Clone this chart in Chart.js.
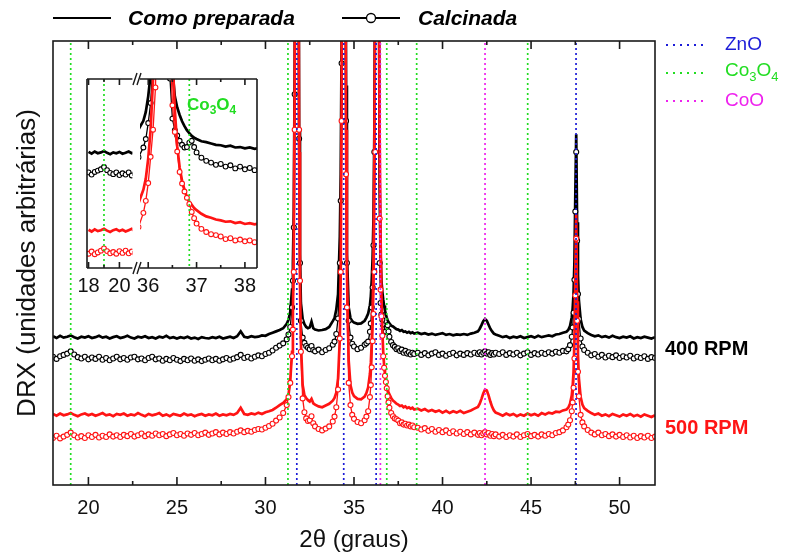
<!DOCTYPE html>
<html>
<head>
<meta charset="utf-8">
<script src="https://cdn.jsdelivr.net/npm/chart.js@4.4.0/dist/chart.umd.min.js"></script>
<style>
  body { margin: 0; background: #fff; }
  #wrap { position: relative; width: 788px; height: 557px; }
  canvas { position: absolute; }
  #main { left: 0; top: 0; }
  #insetL { left: 62px; top: 70px; }
  #insetR { left: 126px; top: 70px; }
</style>
</head>
<body>
<div id="wrap">
  <canvas id="main" width="788" height="557"></canvas>
  <canvas id="insetL" width="76" height="230"></canvas>
  <canvas id="insetR" width="152" height="230"></canvas>
</div>
<script>
Chart.defaults.font.family = "'Liberation Sans', Arial, sans-serif";
Chart.defaults.color = '#111';

// 2theta (graus)
var twoTheta = [
  18,18.2,18.4,18.6,18.8,19,19.2,19.4,19.6,19.8,
  20,20.2,20.4,20.6,20.8,21,21.2,21.4,21.6,21.8,
  22,22.2,22.4,22.6,22.8,23,23.2,23.4,23.6,23.8,
  24,24.2,24.4,24.6,24.8,25,25.2,25.4,25.6,25.8,
  26,26.2,26.4,26.6,26.8,27,27.2,27.4,27.6,27.8,
  28,28.2,28.4,28.6,28.8,29,29.2,29.4,29.6,29.8,
  30,30.2,30.4,30.6,
  30.8,31,31.2,31.3,31.4,31.5,31.55,31.6,31.65,31.7,
  31.75,31.8,31.85,31.9,31.95,32,32.1,32.2,32.3,32.4,
  32.5,32.6,32.7,32.8,33,33.2,33.4,33.6,33.8,33.9,
  34,34.1,34.2,34.25,34.3,34.35,34.4,34.45,34.5,34.55,
  34.6,34.7,34.8,34.9,35,35.2,35.4,35.6,35.7,35.8,
  35.9,35.95,36,36.05,36.1,36.15,36.2,36.25,36.3,36.35,
  36.4,36.45,36.5,36.55,36.6,36.65,36.7,36.75,36.8,36.85,
  36.9,36.95,37,37.1,37.2,37.3,37.4,37.5,37.6,37.7,
  37.8,37.9,38,38.1,38.2,38.3,38.4,
  38.6,38.8,39,39.2,39.4,39.6,39.8,40,40.2,40.4,40.6,40.8,41,41.2,41.4,41.6,41.8,
  42,42.1,42.2,42.3,42.4,42.5,42.6,42.7,42.8,42.9,43,
  43.2,43.4,43.6,43.8,44,44.2,44.4,44.6,44.8,45,45.2,45.4,45.6,45.8,46,46.2,46.4,46.6,46.8,
  47,47.1,47.2,47.3,47.35,47.4,47.45,47.5,47.55,47.6,47.65,47.7,47.8,47.9,48,
  48.2,48.4,48.6,48.8,49,49.2,49.4,49.6,49.8,50,50.2,50.4,50.6,50.8,51,51.2,51.4,51.6,51.8,52
];

// Como preparada, 400 RPM
var asPrep400 = [
  33.5,33.1,33.6,33.2,33.4,33.7,33.3,33.0,33.4,33.2,
  33.5,33.1,33.3,33.6,33.2,33.4,33.0,33.3,33.5,33.1,
  33.3,33.6,33.2,33.0,33.4,33.2,33.5,33.1,33.3,33.0,
  33.4,33.2,33.6,33.1,33.3,33.0,33.3,33.1,33.4,33.0,
  33.2,32.9,33.3,33.1,33.0,33.3,33.1,33.4,33.0,33.2,
  33.4,33.1,33.5,34.6,33.4,33.2,33.5,33.3,33.4,33.7,
  33.6,34.0,34.3,34.6,
  34.9,35.3,36.3,37.2,39.0,44.0,50.0,62.0,95,180,
  400,350,160,80,52,41.0,37.4,36.2,35.6,35.3,
  35.5,36.8,35.3,35.0,34.8,34.9,35.1,35.6,36.9,37.6,
  39.5,43.0,56.0,70.0,100,190,400,350,165,90,
  52,40.0,37.6,36.9,36.6,36.3,36.4,37.0,37.7,38.6,
  40.5,42.5,46.0,51.0,60.0,80,125,250,440,250,
  120,68,52,46.0,43.5,41.8,40.4,39.3,38.4,37.7,
  37.1,36.7,36.4,35.9,35.7,35.4,35.1,35.0,34.7,34.9,
  34.5,34.6,34.3,34.5,34.2,34.4,34.1,
  34.3,34.0,34.2,33.9,34.1,33.8,34.0,34.2,33.8,34.0,33.7,33.9,33.8,34.0,33.8,34.1,34.3,
  34.6,35.2,36.0,36.9,37.4,37.0,36.1,35.2,34.6,34.1,33.9,
  33.6,33.3,33.5,33.1,33.4,33.2,33.5,33.1,33.3,33.5,33.2,33.6,33.3,33.5,33.7,33.5,33.9,34.0,34.3,
  34.5,34.9,35.8,37.8,39.8,43.1,50.4,65.6,79.0,59.2,47.2,41.7,37.3,35.6,34.8,
  34.2,33.8,33.5,33.7,33.3,33.5,33.2,33.6,33.3,33.1,33.4,33.2,33.5,33.0,33.3,33.1,33.4,33.2,33.0,33.3
];

// Calcinada, 400 RPM
var calc400 = [
  28.9,28.4,29.0,29.3,29.6,30.1,29.4,28.8,28.5,28.9,
  28.3,28.7,28.4,28.9,28.2,28.6,28.1,28.5,28.9,28.3,
  28.6,28.2,28.7,28.9,28.3,28.5,28.1,28.6,28.9,28.3,
  28.5,28.0,28.4,28.1,28.6,28.2,27.9,28.4,28.1,28.5,
  28.0,28.3,27.9,28.2,28.5,28.1,28.4,28.0,28.3,28.6,
  28.2,28.5,28.8,29.3,28.6,28.9,28.5,28.9,29.2,29.0,
  29.5,29.8,30.3,30.9,
  31.4,31.9,32.8,33.9,35.6,40.0,46.0,58.0,88,170,
  380,330,150,78,50,37.0,33.2,32.0,31.3,30.9,
  30.6,31.3,30.4,30.1,30.5,29.9,30.4,30.8,31.6,32.3,
  34.0,37.5,50.0,64,95,180,390,340,155,82,
  50,37.0,33.2,31.8,31.2,30.6,30.9,31.6,31.9,32.3,
  34.5,36.4,40.0,44.5,54,75,120,240,420,230,
  105,50,41.0,38.4,37.2,36.0,35.1,34.5,34.6,35.6,
  36.0,34.6,33.4,32.2,31.5,31.1,30.6,30.8,30.2,30.5,
  29.8,30.2,29.6,29.9,29.4,29.8,29.5,
  29.8,29.3,29.7,29.2,29.6,29.9,29.3,29.6,29.1,29.5,29.8,29.2,29.6,29.3,29.7,29.4,29.8,
  29.5,29.9,29.4,29.8,30.1,29.6,29.9,29.3,29.7,29.4,29.8,
  29.5,29.9,29.3,29.7,29.4,29.8,29.2,29.6,29.9,29.3,29.7,29.4,29.8,29.5,29.9,29.6,30.0,29.8,30.2,
  30.1,30.6,31.5,33.4,35.5,38.8,46.2,61.6,75.0,55.0,43.0,37.4,33.0,31.2,30.4,
  29.8,29.2,29.5,28.9,29.3,28.7,29.1,28.8,29.2,28.6,29.0,28.7,29.1,28.5,28.9,28.6,29.0,28.4,28.8,28.6
];

// Como preparada, 500 RPM
var asPrep500 = [
  16.0,15.6,16.1,15.7,15.9,16.2,15.8,15.5,15.9,16.1,
  15.7,16.0,15.6,15.9,16.2,15.7,15.9,15.5,16.0,15.8,
  16.1,15.6,15.9,15.7,16.2,15.8,15.5,16.0,15.7,15.9,
  16.2,15.6,15.9,15.5,16.0,15.8,15.6,16.1,15.7,15.9,
  15.5,15.8,16.0,15.6,15.9,15.7,16.1,15.6,15.9,15.7,
  16.0,15.8,16.2,17.4,16.0,15.8,16.1,15.9,16.3,16.0,
  16.4,16.6,16.9,17.4,
  18.0,18.5,19.3,20.3,23.5,30.0,38.0,55.0,90,175,
  390,340,150,75,45,32.0,22.5,20.2,19.6,19.1,
  18.8,19.4,18.4,18.1,17.7,17.5,17.9,18.3,19.0,19.6,
  20.8,24.0,33.0,48,85,180,395,345,150,80,
  48,28.0,22.5,20.8,20.0,19.4,19.3,19.9,20.7,22.0,
  25.0,27.5,32.0,38.5,50.0,74,120,245,435,245,
  125,78,56,43.0,34.8,30.0,27.0,25.0,23.4,22.3,
  21.6,20.9,20.4,19.6,19.0,18.7,18.3,18.1,17.8,17.9,
  17.5,17.7,17.3,17.5,17.2,17.4,17.0,
  17.2,16.8,17.1,16.6,16.9,16.5,16.8,16.3,16.7,16.2,16.6,16.3,16.7,16.2,16.5,16.8,17.2,
  17.6,18.3,19.4,20.6,21.5,21.3,20.2,18.8,17.6,16.8,16.3,
  16.0,15.6,16.1,15.7,16.0,15.5,15.9,15.6,16.1,15.7,16.0,15.6,16.2,15.9,16.3,16.1,16.5,16.4,16.8,
  17.0,17.4,18.3,20.2,22.3,25.5,32.7,47.8,61.0,41.4,29.5,24.1,19.8,18.1,17.3,
  16.7,16.2,15.8,16.1,15.6,15.9,15.5,16.0,15.7,15.4,15.9,15.6,16.0,15.5,15.8,15.4,15.9,15.6,15.3,15.7
];

// Calcinada, 500 RPM
var calc500 = [
  10.6,11.1,10.5,10.9,11.3,11.8,11.2,10.7,11.0,10.6,
  11.2,10.8,11.3,10.7,11.1,10.8,11.4,10.9,11.2,10.8,
  11.3,11.0,11.5,10.9,11.2,11.6,11.0,11.4,11.1,11.6,
  11.2,11.5,11.0,11.4,11.7,11.2,11.5,11.1,11.6,11.3,
  11.7,11.2,11.5,11.8,11.3,11.6,11.9,11.4,11.8,11.5,
  11.9,11.6,12.0,12.3,11.9,12.2,12.0,12.4,12.6,12.5,
  12.9,13.3,13.8,14.5,
  15.2,16.2,18.0,19.8,23.0,29.0,35.0,48.0,80,165,
  370,320,150,80,46,30.0,19.5,16.4,15.0,14.4,
  14.6,15.5,13.9,13.2,12.6,12.3,12.7,13.2,14.3,15.4,
  17.5,21.5,33.0,48,82,170,380,330,150,70,
  40,23.0,18.0,15.8,14.9,14.2,13.9,14.6,15.4,16.6,
  19.8,22.5,26.5,32.4,38.5,48,75,160,380,230,
  110,60,44.0,38.0,33.6,29.0,26.4,24.6,23.2,21.8,
  20.0,18.6,17.4,16.2,15.5,15.0,14.8,14.5,13.9,14.1,
  13.6,13.8,13.4,13.6,13.2,13.4,13.0,
  12.9,12.5,12.8,12.2,12.6,12.0,12.4,11.9,12.3,11.7,12.1,11.6,12.0,11.5,11.9,11.4,11.8,
  11.3,11.7,11.2,11.6,11.9,11.4,11.7,11.1,11.5,11.0,11.4,
  10.9,11.3,10.8,11.2,10.9,11.4,10.8,11.2,11.5,11.0,11.3,10.9,11.4,11.1,11.5,11.2,11.7,11.9,12.3,
  13.0,13.6,14.6,16.6,18.6,21.9,28.5,42.7,55.5,37.0,25.5,20.0,15.8,14.1,13.2,
  12.4,11.8,11.4,11.8,11.2,11.5,11.0,11.4,10.9,11.3,10.8,11.2,10.7,11.1,10.6,11.0,10.7,11.1,10.6,10.9
];

// fichas de referencia
var znoPeaks = [31.77, 34.42, 36.25, 47.54];
var co3o4Peaks = [19.0, 31.27, 36.85, 38.54, 44.81];
var cooPeaks = [36.49, 42.40];

var xTickLabels = [20, 25, 30, 35, 40, 45, 50];
var insetLeftLabels = [18, 20];
var insetRightLabels = [36, 37, 38];

var RED = '#ff1414';
var BLUE = '#1c1cd8';
var GREEN = '#22dd22';
var MAGENTA = '#ee22ee';
var FONT = "'Liberation Sans', Arial, sans-serif";

function pts(ys) {
  return twoTheta.map(function (x, i) { return {x: x, y: ys[i]}; });
}

function seriesSets(r) {
  return [
    {data: pts(calc500), borderColor: RED, borderWidth: 1.3, pointRadius: r, pointBackgroundColor: '#fff',
     pointBorderColor: RED, pointBorderWidth: 1.1, order: 1},
    {data: pts(asPrep500), borderColor: RED, borderWidth: 2.7, pointRadius: 0, order: 2},
    {data: pts(calc400), borderColor: '#000', borderWidth: 1.3, pointRadius: r, pointBackgroundColor: '#fff',
     pointBorderColor: '#000', pointBorderWidth: 1.1, order: 3},
    {data: pts(asPrep400), borderColor: '#000', borderWidth: 2.7, pointRadius: 0, order: 4}
  ];
}

function refSets(peaks, color, ymin, ymax) {
  return peaks.map(function (p) {
    return {data: [{x: p, y: ymin}, {x: p, y: ymax}], borderColor: color, borderWidth: 1.7,
            borderDash: [2, 3], pointRadius: 0, order: 0};
  });
}

function drawFormula(ctx, parts, x, y, size, weight, color) {
  ctx.fillStyle = color;
  ctx.textAlign = 'left';
  ctx.textBaseline = 'middle';
  var cx = x;
  parts.forEach(function (p) {
    var sub = p[1];
    var fs = sub ? Math.round(size * 0.68) : size;
    ctx.font = weight + ' ' + fs + 'px ' + FONT;
    ctx.fillText(p[0], cx, sub ? y + size * 0.33 : y);
    cx += ctx.measureText(p[0]).width;
  });
}

//------------------------------ decorations of the main plot ------------------------------
var mainDecor = {
  id: 'mainDecor',
  afterDraw: function (chart) {
    var ctx = chart.ctx, a = chart.chartArea, x = chart.scales.x;
    ctx.save();
    ctx.strokeStyle = '#1a1a1a';
    ctx.lineWidth = 1.6;
    ctx.strokeRect(a.left, a.top, a.right - a.left, a.bottom - a.top);
    for (var v = 20; v <= 50; v += 2.5) {            // ticks pointing inside
      var px = x.getPixelForValue(v);
      var len = v % 5 === 0 ? 8 : 4;
      ctx.beginPath();
      ctx.moveTo(px, a.bottom); ctx.lineTo(px, a.bottom - len);
      ctx.moveTo(px, a.top); ctx.lineTo(px, a.top + len);
      ctx.stroke();
    }

    // top legend
    ctx.lineWidth = 2;
    ctx.strokeStyle = '#000';
    ctx.beginPath(); ctx.moveTo(53, 18); ctx.lineTo(111, 18); ctx.stroke();
    ctx.beginPath(); ctx.moveTo(342, 18); ctx.lineTo(400, 18); ctx.stroke();
    ctx.lineWidth = 1.3;
    ctx.fillStyle = '#fff';
    ctx.beginPath(); ctx.arc(371, 18, 4.5, 0, Math.PI * 2); ctx.fill(); ctx.stroke();
    ctx.fillStyle = '#000';
    ctx.textAlign = 'left';
    ctx.textBaseline = 'middle';
    ctx.font = 'italic bold 21px ' + FONT;
    ctx.fillText('Como preparada', 128, 19);
    ctx.fillText('Calcinada', 418, 19);

    // phase legend on the right
    var rows = [[BLUE, 45], [GREEN, 73], [MAGENTA, 101]];
    ctx.lineWidth = 2;
    ctx.setLineDash([2, 5]);
    rows.forEach(function (r) {
      ctx.strokeStyle = r[0];
      ctx.beginPath(); ctx.moveTo(666, r[1]); ctx.lineTo(708, r[1]); ctx.stroke();
    });
    ctx.setLineDash([]);
    drawFormula(ctx, [['ZnO', false]], 725, 45, 19, 'normal', BLUE);
    drawFormula(ctx, [['Co', false], ['3', true], ['O', false], ['4', true]], 725, 71, 19, 'normal', GREEN);
    drawFormula(ctx, [['CoO', false]], 725, 101, 19, 'normal', MAGENTA);

    ctx.font = 'bold 20px ' + FONT;
    ctx.fillStyle = '#000';
    ctx.fillText('400 RPM', 665, 349);
    ctx.fillStyle = RED;
    ctx.fillText('500 RPM', 665, 428);
    ctx.restore();
  }
};

new Chart(document.getElementById('main').getContext('2d'), {
  type: 'line',
  data: {
    datasets: seriesSets(2.5)
      .concat(refSets(znoPeaks, BLUE, 0, 100))
      .concat(refSets(co3o4Peaks, GREEN, 0, 100))
      .concat(refSets(cooPeaks, MAGENTA, 0, 100))
  },
  options: {
    responsive: false,
    animation: false,
    events: [],
    layout: {padding: {left: 0, top: 41, right: 133, bottom: 0}},
    plugins: {legend: {display: false}, tooltip: {enabled: false}},
    scales: {
      x: {
        type: 'linear', min: 18, max: 52,
        afterFit: function (s) { s.height = 72; },
        afterBuildTicks: function (s) { s.ticks = xTickLabels.map(function (v) { return {value: v}; }); },
        grid: {display: false, drawTicks: false},
        border: {display: false},
        ticks: {padding: 11, font: {size: 20}, color: '#111'},
        title: {display: true, text: '2θ (graus)', font: {size: 24}, color: '#111', padding: {top: 0, bottom: 2}}
      },
      y: {
        min: 0, max: 100,
        afterFit: function (s) { s.width = 53; },
        grid: {display: false, drawTicks: false},
        border: {display: false},
        ticks: {display: false},
        title: {display: true, text: 'DRX (unidades arbitrárias)', font: {size: 26}, color: '#111',
                padding: {top: 12, bottom: 0}}
      }
    }
  },
  plugins: [mainDecor]
});

//------------------------------ inset (broken x axis) ------------------------------
function insetDecor(side, marks) {
  return {
    id: 'insetDecor' + side,
    beforeDraw: function (chart) {
      var a = chart.chartArea, ctx = chart.ctx;
      ctx.save();
      ctx.fillStyle = '#fff';
      ctx.fillRect(a.left, a.top, a.right - a.left, a.bottom - a.top);
      ctx.restore();
    },
    afterDraw: function (chart) {
      var ctx = chart.ctx, a = chart.chartArea, x = chart.scales.x;
      ctx.save();
      ctx.strokeStyle = '#1a1a1a';
      ctx.lineWidth = 1.6;
      ctx.beginPath();
      ctx.moveTo(a.left, a.top); ctx.lineTo(a.right, a.top);
      ctx.moveTo(a.left, a.bottom); ctx.lineTo(a.right, a.bottom);
      if (side === 'L') { ctx.moveTo(a.left, a.top); ctx.lineTo(a.left, a.bottom); }
      else { ctx.moveTo(a.right, a.top); ctx.lineTo(a.right, a.bottom); }
      ctx.stroke();
      marks.forEach(function (m) {
        var px = x.getPixelForValue(m[0]);
        ctx.beginPath();
        ctx.moveTo(px, a.bottom); ctx.lineTo(px, a.bottom - m[1]);
        ctx.moveTo(px, a.top); ctx.lineTo(px, a.top + m[1]);
        ctx.stroke();
      });
      if (side === 'R') {
        // break marks //
        ctx.lineWidth = 1.4;
        [a.top, a.bottom].forEach(function (yy) {
          ctx.beginPath();
          ctx.moveTo(a.left - 7, yy + 6); ctx.lineTo(a.left - 3, yy - 6);
          ctx.moveTo(a.left - 3, yy + 6); ctx.lineTo(a.left + 1, yy - 6);
          ctx.stroke();
        });
        drawFormula(ctx, [['Co', false], ['3', true], ['O', false], ['4', true]],
                    a.left + 47, a.top + 26, 17, 'bold', GREEN);
      }
      ctx.restore();
    }
  };
}

function makeInset(id, side, xmin, xmax, labels, marks, padL, padR) {
  var refs = co3o4Peaks.filter(function (p) { return p > xmin && p < xmax; });
  new Chart(document.getElementById(id).getContext('2d'), {
    type: 'line',
    data: {datasets: seriesSets(2.4).concat(refSets(refs, GREEN, 0, 100))},
    options: {
      responsive: false,
      animation: false,
      events: [],
      layout: {padding: {left: padL, top: 9, right: padR, bottom: 0}},
      plugins: {legend: {display: false}, tooltip: {enabled: false}},
      scales: {
        x: {
          type: 'linear', min: xmin, max: xmax,
          afterFit: function (s) { s.height = 32; },
          afterBuildTicks: function (s) { s.ticks = labels.map(function (v) { return {value: v}; }); },
          grid: {display: false, drawTicks: false},
          border: {display: false},
          ticks: {padding: 6, font: {size: 20}, color: '#111', maxRotation: 0, autoSkip: false}
        },
        y: {min: 7.4, max: 49.9, display: false}
      }
    },
    plugins: [insetDecor(side, marks)]
  });
}

makeInset('insetL', 'L', 17.9, 20.84, insetLeftLabels, [[18, 6], [19, 3], [20, 6]], 25, 1);
makeInset('insetR', 'R', 35.83, 38.25, insetRightLabels,
          [[36, 6], [36.5, 3], [37, 6], [37.5, 3], [38, 6]], 14, 21);
</script>
</body>
</html>
